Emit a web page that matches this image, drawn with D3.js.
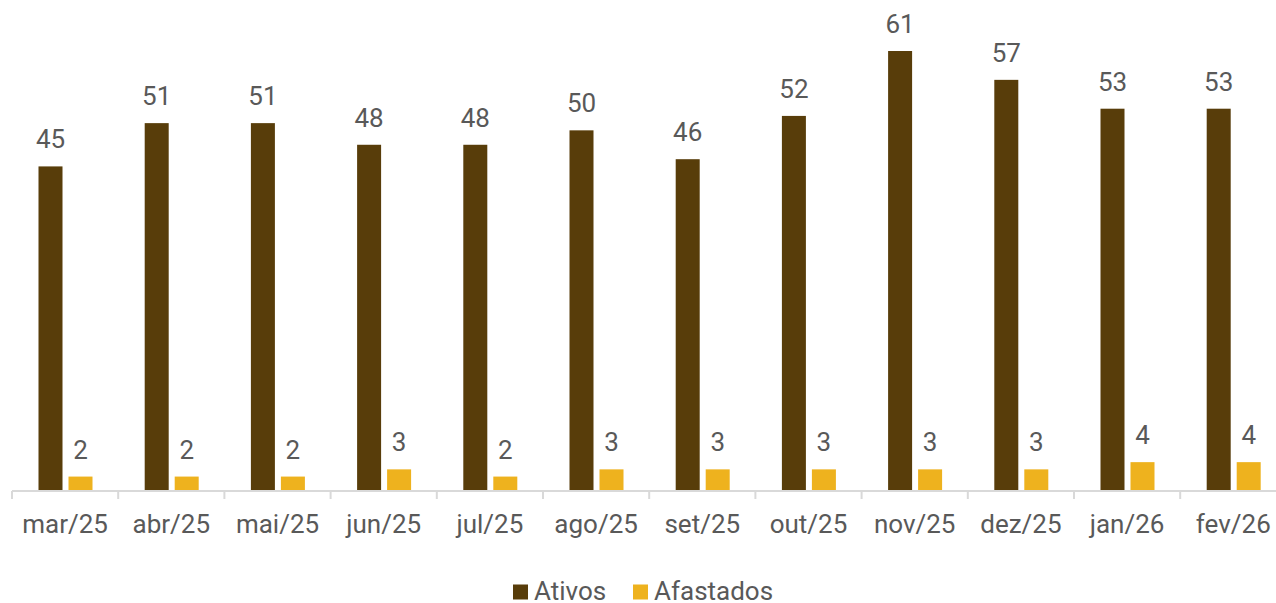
<!DOCTYPE html>
<html><head><meta charset="utf-8">
<script src="https://cdn.jsdelivr.net/npm/d3@7"></script>
<style>html,body{margin:0;padding:0;background:#fff;overflow:hidden}svg{display:block;font-family:Roboto,"Noto Sans",sans-serif}</style>
</head><body><svg id="c" width="1276" height="603"></svg>
<script>
const categories = ["mar/25","abr/25","mai/25","jun/25","jul/25","ago/25","set/25","out/25","nov/25","dez/25","jan/26","fev/26"];
const ativos = [45,51,51,48,48,50,46,52,61,57,53,53];
const afastados = [2,2,2,3,2,3,3,3,3,3,4,4];
const seriesNames = ["Ativos","Afastados"];
const colors = ["#583d0a","#eeb21e"];

const svg = d3.select("#c");
const x0 = 12, x1 = 12 + 106.2*12, base = 491;
const x = d3.scaleBand().domain(categories).range([x0, x1]).paddingInner(0).paddingOuter(0);
const sub = d3.scaleBand().domain(seriesNames).range([26.5, 26.5+54]).paddingInner(6/30).paddingOuter(0);
const y = d3.scaleLinear().domain([0, 61]).range([base, 51]);

const data = categories.map((c,i)=>({c, vals:[ativos[i], afastados[i]]}));

const g = svg.append("g");
data.forEach(d=>{
  d.vals.forEach((v,j)=>{
    const bx = x(d.c) + sub(seriesNames[j]);
    g.append("rect").attr("x", bx).attr("y", y(v)).attr("width", sub.bandwidth()).attr("height", base - y(v)).attr("fill", colors[j]);
    g.append("text").attr("x", bx + sub.bandwidth()/2).attr("y", y(v) - 18)
      .attr("text-anchor","middle").attr("font-size", 26).attr("fill","#595959").text(v);
  });
});

// axis
const axis = d3.axisBottom(x).tickSize(0).tickFormat("");
const ag = svg.append("g").attr("transform", `translate(0,${base})`).call(axis);
ag.select(".domain").attr("stroke","#d9d9d9").attr("stroke-width",2).attr("d", `M${x0},0H${x1}`);
const bounds = categories.map(c=>x(c)).concat([x1]);
svg.append("g").selectAll("line").data(bounds).join("line")
  .attr("x1",d=>d).attr("x2",d=>d).attr("y1",base).attr("y2",base+8)
  .attr("stroke","#d9d9d9").attr("stroke-width",2);
svg.append("g").selectAll("text").data(categories).join("text")
  .attr("x", d=>x(d)+x.bandwidth()/2).attr("y", 533)
  .attr("text-anchor","middle").attr("font-size",26).attr("fill","#595959").text(d=>d);

// legend
const leg = [{n:"Ativos",c:colors[0],sx:513},{n:"Afastados",c:colors[1],sx:633}];
leg.forEach(l=>{
  svg.append("rect").attr("x",l.sx).attr("y",584.5).attr("width",15).attr("height",15).attr("fill",l.c);
  svg.append("text").attr("x",l.sx+21).attr("y",599.5).attr("font-size",26).attr("fill","#595959").text(l.n);
});
</script></body></html>
